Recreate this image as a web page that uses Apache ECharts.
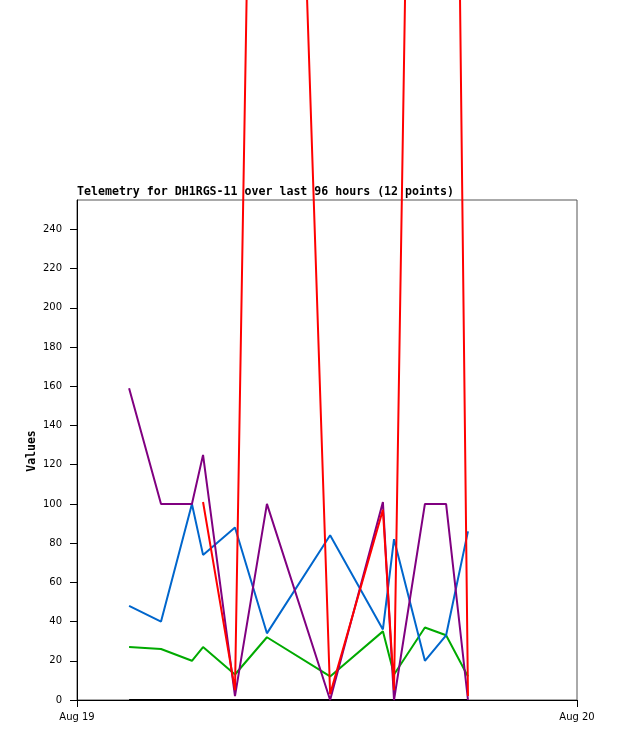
<!DOCTYPE html>
<html>
<head>
    <meta charset="utf-8">
    <title>Telemetry for DH1RGS-11</title>
    <script src="https://cdn.jsdelivr.net/npm/echarts@6/dist/echarts.min.js"></script>
    <style>
        html, body { margin: 0; padding: 0; background: #fff; }
        #main { width: 618px; height: 741px; }
    </style>
</head>
<body>
<div id="main"></div>
<script>
    // sample times (Aug 19, local hh:mm)
    var times = ['02:30', '04:02', '05:31', '06:03', '07:35', '09:07', '12:09', '14:41', '15:13', '16:42', '17:43', '18:46'];

    var purpleVals = [159, 100, 100, 125, 2, 100, 0, 101, 0, 100, 100, 0];
    var blueVals   = [48, 40, 100, 74, 88, 34, 84, 36, 82, 20, 33, 86];
    var greenVals  = [27, 26, 20, 27, 13, 32, 12, 35, 13, 37, 33, 12];
    var redVals    = [null, null, null, 101, 5, 975, 3, 97, 5, 995, 980, 2];
    var blackVals  = [0, 0, 0, 0, 0, 0, 0, 0, 0, 0, 0, 0];

    var yTicks = [0, 20, 40, 60, 80, 100, 120, 140, 160, 180, 200, 220, 240];
    var xTicks = [0, 24];
    var xTickLabels = ['Aug 19', 'Aug 20'];

    function hours(t) {
        var p = t.split(':');
        return +p[0] + (+p[1]) / 60;
    }
    function pairs(vals) {
        return times.map(function (t, i) {
            return [hours(t), vals[i]];
        });
    }
    function line(vals, color) {
        return {
            type: 'line',
            data: pairs(vals),
            symbol: 'none',
            clip: false,
            connectNulls: false,
            lineStyle: { color: color, width: 2 },
            itemStyle: { color: color }
        };
    }

    var myChart = echarts.init(document.getElementById('main'));
    myChart.setOption({
        animation: false,
        title: {
            text: 'Telemetry for DH1RGS-11 over last 96 hours (12 points)',
            left: 77,
            top: 186,
            padding: 0,
            textStyle: {
                fontFamily: 'DejaVu Sans Mono',
                fontWeight: 'bold',
                fontSize: 11.6,
                color: '#000'
            }
        },
        // y axis title, placed by hand
        graphic: [{
            type: 'text',
            x: 32,
            y: 451,
            rotation: Math.PI / 2,
            style: {
                text: 'Values',
                fontFamily: 'DejaVu Sans Mono',
                fontWeight: 'bold',
                fontSize: 11.5,
                fill: '#000',
                align: 'center',
                verticalAlign: 'middle'
            }
        }],
        grid: {
            left: 77, right: 41, top: 200, bottom: 41,
            show: true,
            borderColor: '#555',
            borderWidth: 1,
            containLabel: false
        },
        xAxis: {
            type: 'value',
            min: 0,
            max: 24,
            interval: 24,
            splitLine: { show: false },
            axisLine: { show: true, lineStyle: { color: '#000', width: 1 } },
            axisTick: { show: true, length: 7, customValues: xTicks, lineStyle: { color: '#000' } },
            axisLabel: {
                customValues: xTicks,
                margin: 12,
                fontFamily: 'DejaVu Sans',
                fontSize: 10,
                color: '#000',
                formatter: function (v) {
                    return xTickLabels[xTicks.indexOf(v)];
                }
            }
        },
        yAxis: {
            type: 'value',
            min: 0,
            max: 255,
            interval: 20,
            splitLine: { show: false },
            axisLine: { show: true, lineStyle: { color: '#000', width: 1 } },
            axisTick: { show: true, length: 7, customValues: yTicks, lineStyle: { color: '#000' } },
            axisLabel: {
                customValues: yTicks,
                margin: 15,
                fontFamily: 'DejaVu Sans',
                fontSize: 10,
                color: '#000'
            }
        },
        series: [
            line(blackVals, '#000000'),
            line(greenVals, '#00aa00'),
            line(blueVals, '#0066cc'),
            line(purpleVals, '#800080'),
            line(redVals, '#ff0000')
        ]
    });
</script>
</body>
</html>
